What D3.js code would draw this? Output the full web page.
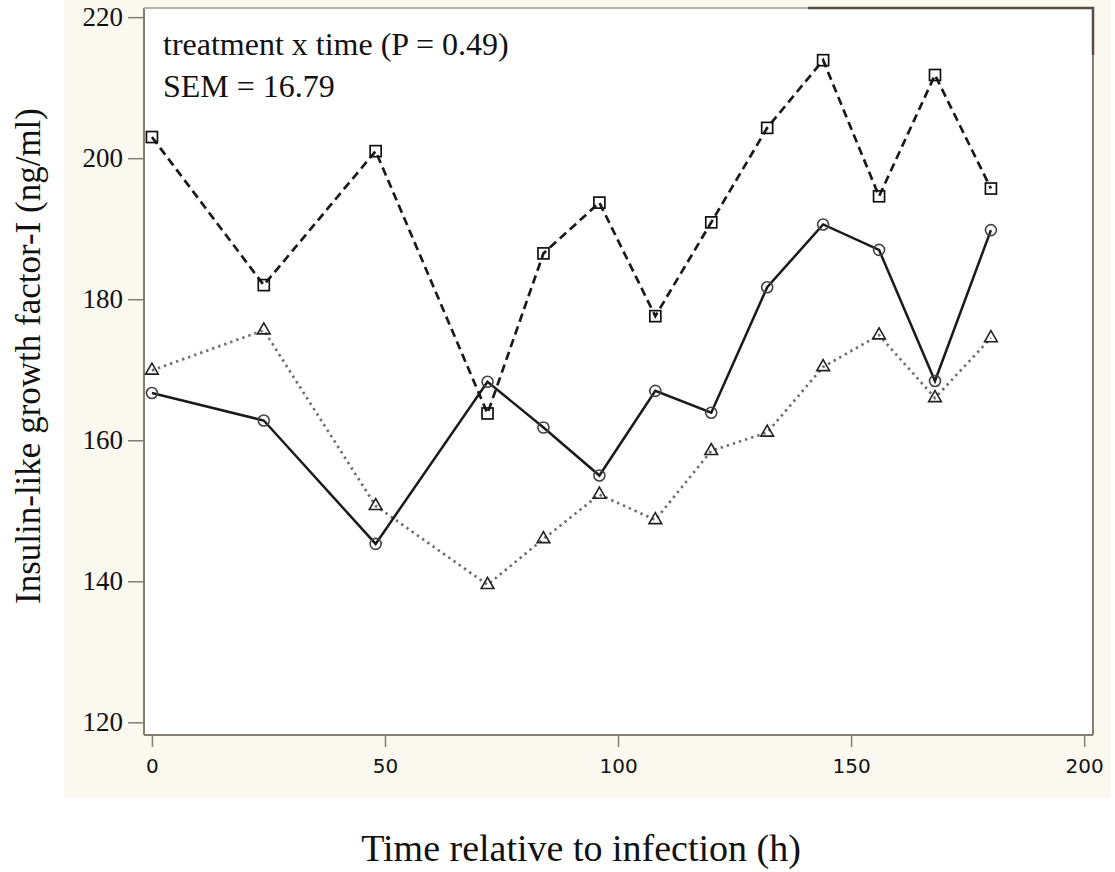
<!DOCTYPE html>
<html><head><meta charset="utf-8">
<script src="https://cdn.jsdelivr.net/npm/d3@7"></script>
<style>
html,body{margin:0;padding:0;background:#ffffff;}
svg{display:block;}
</style></head>
<body>
<svg id="chart" width="1115" height="872"></svg>
<script>
// ---- data ----
const times = [0, 24, 48, 72, 84, 96, 108, 120, 132, 144, 156, 168, 180];
const seriesSquare = [203.0, 182.0, 201.0, 163.8, 186.5, 193.7, 177.6, 190.9, 204.3, 213.9, 194.6, 211.8, 195.7];
const seriesCircle = [166.7, 162.8, 145.3, 168.3, 161.8, 155.0, 167.0, 163.9, 181.7, 190.6, 187.0, 168.4, 189.8];
const seriesTriangle = [169.9, 175.6, 150.7, 139.5, 146.0, 152.3, 148.7, 158.5, 161.1, 170.4, 174.9, 166.0, 174.5];
const xTicks = [0, 50, 100, 150, 200];
const yTicks = [120, 140, 160, 180, 200, 220];
const annotation = ["treatment x time (P = 0.49)", "SEM = 16.79"];
const xTitle = "Time relative to infection (h)";
const yTitle = "Insulin-like growth factor-I (ng/ml)";

const svg = d3.select("#chart");
const L = 144, R = 1093, T = 8, B = 735;
const serif = "'Liberation Serif', 'Times New Roman', serif";

// cream background panel
svg.append("rect").attr("x", 64).attr("y", 0).attr("width", 1047).attr("height", 798).attr("fill", "#fbf8f0");
// plot area
svg.append("rect").attr("x", L).attr("y", T).attr("width", R - L).attr("height", B - T).attr("fill", "#ffffff");

const x = d3.scaleLinear().domain([-1.7, 201.9]).range([L, R]);
const y = d3.scaleLinear().domain([118.2, 221.3]).range([B, T]);

// frame
const frameCol = "#857e73";
svg.append("line").attr("x1", L).attr("x2", L).attr("y1", T).attr("y2", B).attr("stroke", frameCol).attr("stroke-width", 2);
svg.append("line").attr("x1", R).attr("x2", R).attr("y1", T).attr("y2", B).attr("stroke", frameCol).attr("stroke-width", 2);
svg.append("line").attr("x1", L).attr("x2", R).attr("y1", B).attr("y2", B).attr("stroke", frameCol).attr("stroke-width", 2);
svg.append("line").attr("x1", L).attr("x2", 808).attr("y1", T).attr("y2", T).attr("stroke", "#b9b3a9").attr("stroke-width", 2);
svg.append("path").attr("d", `M808,${T}H${R}V55`).attr("fill", "none").attr("stroke", "#564e42").attr("stroke-width", 2.5);

// y axis
const yAxis = svg.append("g").attr("transform", `translate(${L},0)`)
  .call(d3.axisLeft(y).tickValues(yTicks).tickSize(16).tickPadding(5).tickFormat(d3.format("d")));
yAxis.attr("font-size", null).attr("font-family", null);
yAxis.select(".domain").remove();
yAxis.selectAll("line").attr("stroke", frameCol).attr("stroke-width", 1.5);
yAxis.selectAll("text").style("font-family", serif).style("font-size", "27px").attr("fill", "#111");

// x axis
const xAxis = svg.append("g").attr("transform", `translate(0,${B})`)
  .call(d3.axisBottom(x).tickValues(xTicks).tickSize(12).tickPadding(12).tickFormat(d3.format("d")));
xAxis.attr("font-size", null).attr("font-family", null);
xAxis.select(".domain").remove();
xAxis.selectAll("line").attr("stroke", frameCol).attr("stroke-width", 1.5);
xAxis.selectAll("text").style("font-family", "'DejaVu Sans', Verdana, sans-serif")
  .style("font-size", "20px").attr("fill", "#111");

// lines
const line = (vals) => d3.line().x((d, i) => x(times[i])).y(d => y(d))(vals);
svg.append("path").attr("d", line(seriesTriangle)).attr("fill", "none")
  .attr("stroke", "#6e6e6e").attr("stroke-width", 2.7).attr("stroke-dasharray", "2.4,4").attr("stroke-linecap", "butt");
svg.append("path").attr("d", line(seriesCircle)).attr("fill", "none")
  .attr("stroke", "#1a1a1a").attr("stroke-width", 2.5);
svg.append("path").attr("d", line(seriesSquare)).attr("fill", "none")
  .attr("stroke", "#1a1a1a").attr("stroke-width", 2.7).attr("stroke-dasharray", "8.5,5");

// markers
svg.append("g").selectAll("rect").data(seriesSquare).join("rect")
  .attr("x", (d, i) => x(times[i]) - 5.5).attr("y", d => y(d) - 5.5)
  .attr("width", 11).attr("height", 11).attr("fill", "none").attr("stroke", "#111").attr("stroke-width", 1.7);
svg.append("g").selectAll("circle").data(seriesCircle).join("circle")
  .attr("cx", (d, i) => x(times[i])).attr("cy", d => y(d)).attr("r", 5.5)
  .attr("fill", "none").attr("stroke", "#444").attr("stroke-width", 1.6);
const tri = d3.symbol().type(d3.symbolTriangle).size(70);
svg.append("g").selectAll("path").data(seriesTriangle).join("path")
  .attr("d", tri).attr("transform", (d, i) => `translate(${x(times[i])},${y(d)})`)
  .attr("fill", "none").attr("stroke", "#222").attr("stroke-width", 1.6);

// annotation
const ann = svg.append("g").attr("font-family", serif).attr("font-size", 32).attr("fill", "#111");
ann.selectAll("text").data(annotation).join("text")
  .attr("x", 163).attr("y", (d, i) => 55 + i * 42).text(d => d);

// axis titles
svg.append("text").attr("x", 581).attr("y", 861).attr("text-anchor", "middle")
  .attr("font-family", serif).attr("font-size", 38).attr("fill", "#111").text(xTitle);
svg.append("text").attr("transform", "translate(40,356) rotate(-90)").attr("text-anchor", "middle")
  .attr("font-family", serif).attr("font-size", 35).attr("fill", "#111").text(yTitle);
</script>
</body></html>
